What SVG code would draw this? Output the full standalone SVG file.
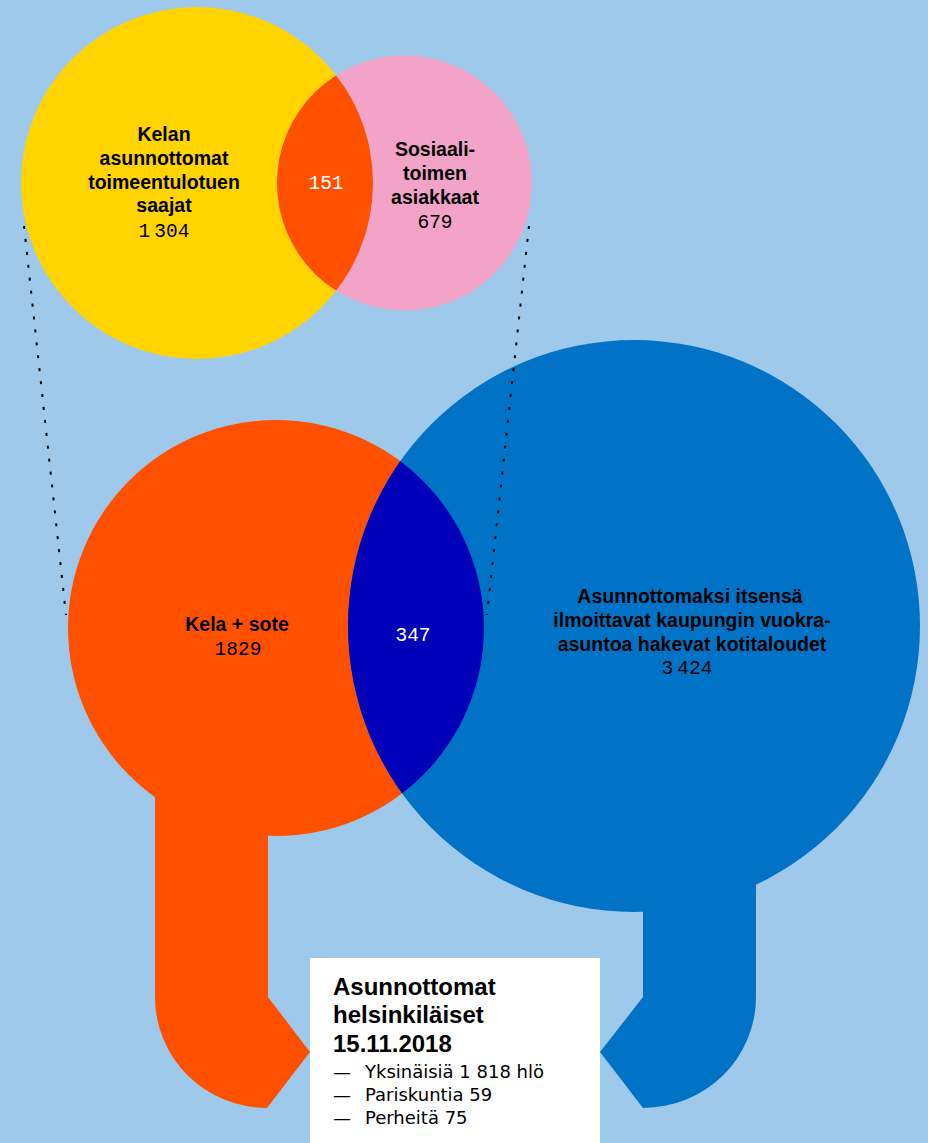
<svg xmlns="http://www.w3.org/2000/svg" width="928" height="1143" viewBox="0 0 928 1143">
<style>
.b{font-family:"Liberation Sans",Arial,sans-serif;font-weight:bold;font-size:19.5px;fill:#000;text-anchor:middle}
.m{font-family:"Liberation Mono","DejaVu Sans Mono",monospace;font-size:19.5px;fill:#000;text-anchor:middle}
.w{fill:#fff}
.h{font-family:"Liberation Sans",Arial,sans-serif;font-weight:bold;font-size:24px;fill:#000}
.r{font-family:"DejaVu Sans",sans-serif;font-size:18px;fill:#000}
.dot{stroke:#000;stroke-width:2;stroke-dasharray:3 10;fill:none}
</style>
<defs>
<clipPath id="cy"><circle cx="197" cy="183" r="176"/></clipPath>
<clipPath id="co"><circle cx="276" cy="628" r="208"/></clipPath>
</defs>
<rect width="928" height="1143" fill="#9FC9EA"/>
<g id="kelan">
<circle cx="197" cy="183" r="176" fill="#FFD400"/>
<text class="b" x="164" y="141">Kelan</text>
<text class="b" x="164" y="165">asunnottomat</text>
<text class="b" x="164" y="189">toimeentulotuen</text>
<text class="b" x="164" y="212">saajat</text>
<text class="m" x="164" y="237">1<tspan dx="4">304</tspan></text>
</g>
<g id="sosiaali">
<circle cx="404.5" cy="183" r="127.5" fill="#F4A3C8"/>
<text class="b" x="435" y="156">Sosiaali-</text>
<text class="b" x="435" y="180">toimen</text>
<text class="b" x="435" y="204">asiakkaat</text>
<text class="m" x="435" y="228">679</text>
</g>
<g id="overlap-top">
<circle cx="404.5" cy="183" r="127.5" fill="#FF5000" clip-path="url(#cy)"/>
<text class="m w" x="326" y="189">151</text>
</g>
<g id="kela-sote">
<path d="M155 700 H268 V997 L310 1052 L267 1108 A112 111 0 0 1 155 997 Z" fill="#FF5000"/>
<circle cx="276" cy="628" r="208" fill="#FF5000"/>
<text class="b" x="237" y="631">Kela + sote</text>
<text class="m" x="238" y="655">1829</text>
</g>
<g id="vuokra">
<path d="M643 800 H756 V997 A113 111 0 0 1 643 1108 L600 1052 L643 997 Z" fill="#0073C6"/>
<circle cx="634" cy="626" r="286" fill="#0073C6"/>
<text class="b" x="690" y="603">Asunnottomaksi itsensä</text>
<text class="b" x="692" y="627">ilmoittavat kaupungin vuokra-</text>
<text class="b" x="692" y="651">asuntoa hakevat kotitaloudet</text>
<text class="m" x="687" y="674">3<tspan dx="4">424</tspan></text>
</g>
<g id="overlap-bottom">
<circle cx="634" cy="626" r="286" fill="#0000B9" clip-path="url(#co)"/>
<text class="m w" x="413" y="641">347</text>
</g>
<g id="connectors">
<line class="dot" x1="24" y1="226" x2="66" y2="615"/>
<line class="dot" x1="529" y1="226" x2="487" y2="615"/>
</g>
<g id="legend">
<rect x="310" y="958" width="290" height="185" fill="#fff"/>
<text class="h" x="333" y="995">Asunnottomat</text>
<text class="h" x="333" y="1023">helsinkiläiset</text>
<text class="h" x="333" y="1052">15.11.2018</text>
<text class="r" x="333" y="1078">—</text>
<text class="r" x="365" y="1078">Yksinäisiä 1 818 hlö</text>
<text class="r" x="333" y="1101">—</text>
<text class="r" x="365" y="1101">Pariskuntia 59</text>
<text class="r" x="333" y="1124">—</text>
<text class="r" x="365" y="1124">Perheitä 75</text>
</g>
</svg>
